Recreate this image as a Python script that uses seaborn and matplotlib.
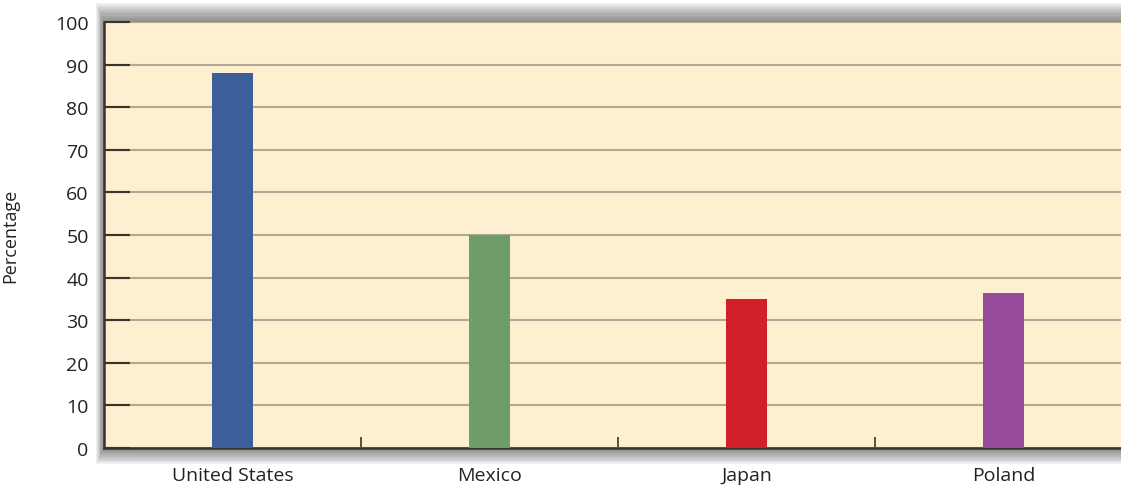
import matplotlib
matplotlib.use("Agg")
import matplotlib.pyplot as plt
import seaborn as sns
import pandas as pd
from matplotlib.patches import Rectangle

# 数据
countries = ["United States", "Mexico", "Japan", "Poland"]
percentages = [88, 50, 35, 36.5]
bar_colors = ["#3d5f99", "#6e9c6a", "#d1202a", "#964a9c"]
y_ticks = [0, 10, 20, 30, 40, 50, 60, 70, 80, 90, 100]

sns.set_theme(style="white")
plt.rcParams['font.family'] = ['Open Sans', 'DejaVu Sans']

df = pd.DataFrame({"country": countries, "pct": percentages})

fig = plt.figure(figsize=(11.21, 4.89), dpi=100)
ax = fig.add_axes([104 / 1121, 40 / 489, 1028 / 1121, 426 / 489])
ax.set_zorder(5)

# 阴影效果（画在坐标区之下）
for i in range(9):
    pad = (i + 1) * 1.8
    r = Rectangle(((104 - pad * 0.5) / 1121, (40 - pad) / 489),
                  (1028 + pad) / 1121, (426 + pad * 2.2) / 489,
                  transform=fig.transFigure, facecolor="#2a2a2a",
                  alpha=0.075, edgecolor="none", zorder=0)
    fig.patches.append(r)

ax.set_facecolor("#fdefcf")
sns.barplot(data=df, x="country", y="pct", hue="country", palette=bar_colors,
            width=0.156, legend=False, ax=ax, saturation=1, zorder=3,
            linewidth=0, edgecolor="none")

ax.set_ylim(0, 100)
ax.set_xlim(-0.5, 3.5)
ax.set_yticks(y_ticks)
ax.yaxis.grid(True, color="#b3a898", linewidth=1.5, zorder=1)
ax.set_axisbelow(True)

for s in ["top", "right"]:
    ax.spines[s].set_visible(False)
for s in ["left", "bottom"]:
    ax.spines[s].set_color("#3b3428")
    ax.spines[s].set_linewidth(1.8)

ax.tick_params(axis="y", direction="in", length=19, width=1.5, color="#3b3428",
               labelsize=14, pad=11, labelcolor="#222222", left=True)
ax.tick_params(axis="x", which="major", length=0, labelsize=14, pad=13,
               labelcolor="#222222")
ax.set_xticks([0.5, 1.5, 2.5], minor=True)
ax.tick_params(axis="x", which="minor", direction="in", length=8, width=1.2,
               color="#3b3428", bottom=True)

ax.set_xlabel("")
ax.set_ylabel("Percentage", fontsize=13, color="#222222", labelpad=26)

plt.savefig("out.png", dpi=100)
